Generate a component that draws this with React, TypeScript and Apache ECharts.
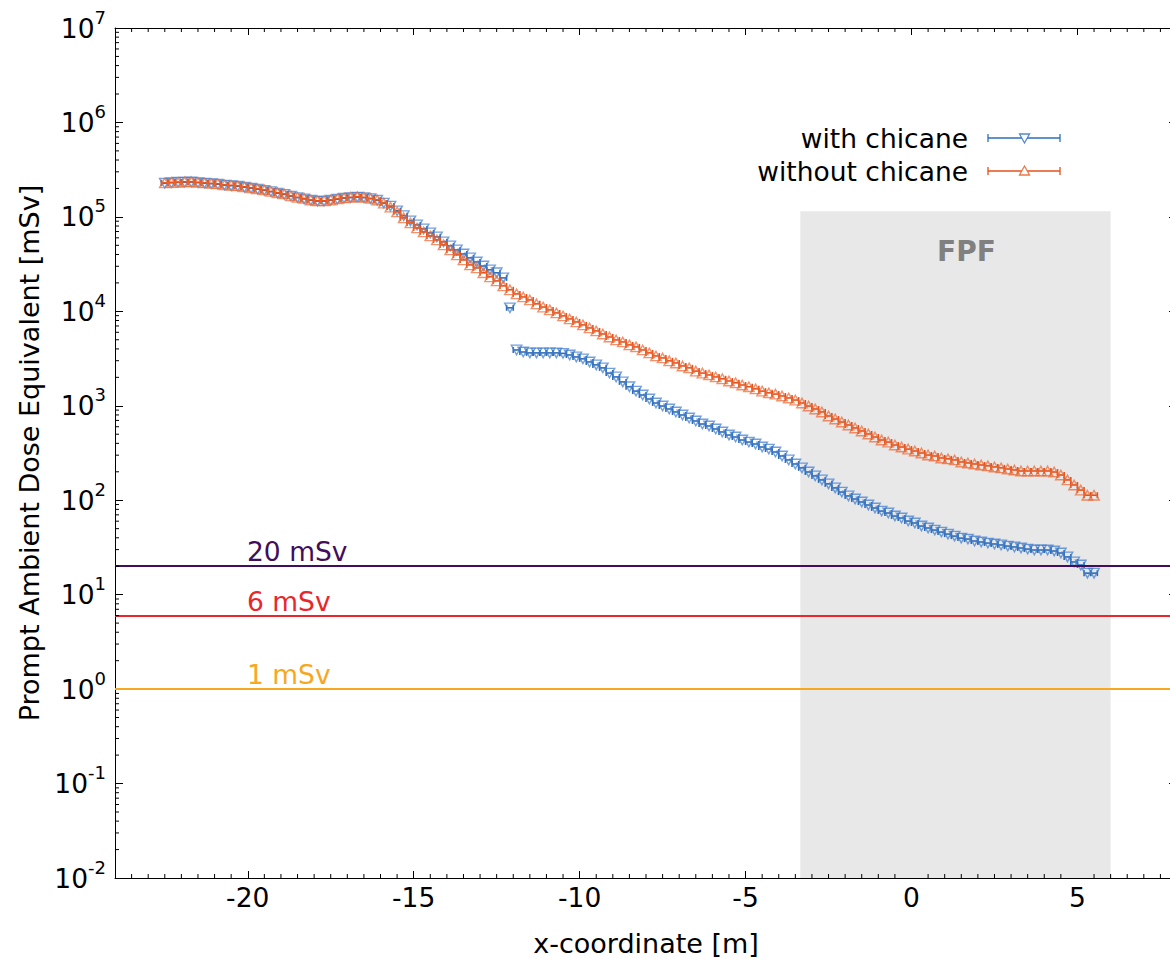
import React, { useEffect, useRef } from 'react';
import * as echarts from 'echarts';

// ---------- data ----------
const xPositions = [
  -22.5, -22.3, -22.1, -21.9, -21.7, -21.5, -21.3, -21.1, -20.9, -20.7,
  -20.5, -20.3, -20.1, -19.9, -19.7, -19.5, -19.3, -19.1, -18.9, -18.7,
  -18.5, -18.3, -18.1, -17.9, -17.7, -17.5, -17.3, -17.1, -16.9, -16.7,
  -16.5, -16.3, -16.1, -15.9, -15.7, -15.5, -15.3, -15.1, -14.9, -14.7,
  -14.5, -14.3, -14.1, -13.9, -13.7, -13.5, -13.3, -13.1, -12.9, -12.7,
  -12.5, -12.3, -12.1, -11.9, -11.7, -11.5, -11.3, -11.1, -10.9, -10.7,
  -10.5, -10.3, -10.1, -9.9, -9.7, -9.5, -9.3, -9.1, -8.9, -8.7,
  -8.5, -8.3, -8.1, -7.9, -7.7, -7.5, -7.3, -7.1, -6.9, -6.7,
  -6.5, -6.3, -6.1, -5.9, -5.7, -5.5, -5.3, -5.1, -4.9, -4.7,
  -4.5, -4.3, -4.1, -3.9, -3.7, -3.5, -3.3, -3.1, -2.9, -2.7,
  -2.5, -2.3, -2.1, -1.9, -1.7, -1.5, -1.3, -1.1, -0.9, -0.7,
  -0.5, -0.3, -0.1, 0.1, 0.3, 0.5, 0.7, 0.9, 1.1, 1.3,
  1.5, 1.7, 1.9, 2.1, 2.3, 2.5, 2.7, 2.9, 3.1, 3.3,
  3.5, 3.7, 3.9, 4.1, 4.3, 4.5, 4.7, 4.9, 5.1, 5.3,
  5.5,
];

const withChicane = [
  227000, 230000, 233000, 233000, 234000, 231000, 228000, 225000, 222000, 217000,
  214000, 211000, 206000, 201000, 196000, 191000, 185000, 178000, 173000, 166000,
  160000, 155000, 150000, 147000, 147000, 150000, 154000, 158000, 160000, 162000,
  160000, 156000, 150000, 140000, 130000, 116000, 103000, 90700, 82200, 74600,
  67700, 61400, 54400, 49300, 44700, 40500, 36800, 33300, 30200, 27500,
  25600, 22600, 10900, 3900, 3710, 3630, 3630, 3630, 3630, 3630,
  3590, 3450, 3290, 3140, 2910, 2710, 2520, 2220, 2020, 1790,
  1590, 1430, 1300, 1180, 1070, 994, 925, 860, 799, 742,
  690, 641, 611, 568, 528, 490, 467, 434, 413, 394,
  366, 348, 324, 294, 267, 242, 220, 199, 181, 164,
  149, 135, 122, 111, 103, 95.7, 89.0, 82.7, 76.8, 73.2,
  68.0, 64.8, 60.2, 57.4, 53.3, 50.8, 48.3, 46.0, 43.8, 41.7,
  39.7, 38.8, 37.0, 36.1, 35.2, 34.4, 33.6, 32.7, 32.0, 31.2,
  30.4, 29.7, 29.7, 29.7, 29.0, 27.6, 25.1, 22.2, 20.6, 16.9,
  16.9,
];

const withoutChicane = [
  229000, 232000, 232000, 235000, 235000, 232000, 229000, 226000, 224000, 218000,
  216000, 213000, 208000, 203000, 198000, 193000, 186000, 180000, 175000, 167000,
  161000, 157000, 151000, 148000, 148000, 151000, 155000, 159000, 161000, 163000,
  161000, 157000, 151000, 140000, 127000, 113000, 97700, 86400, 76400, 69300,
  62900, 57100, 50600, 44700, 39600, 35000, 31000, 28800, 25600, 23200,
  21000, 18600, 16900, 15300, 14200, 13200, 12000, 11100, 10350, 9620,
  8940, 8310, 7720, 7180, 6670, 6200, 5760, 5350, 4980, 4740,
  4410, 4200, 3900, 3630, 3370, 3210, 2990, 2840, 2640, 2520,
  2330, 2220, 2120, 2020, 1930, 1830, 1750, 1660, 1590, 1510,
  1430, 1370, 1330, 1270, 1210, 1150, 1070, 994, 925, 860,
  780, 724, 673, 626, 582, 541, 503, 467, 434, 413,
  384, 366, 348, 332, 316, 301, 294, 280, 274, 267,
  254, 248, 242, 236, 231, 225, 220, 214, 209, 204,
  204, 204, 204, 204, 199, 185, 164, 145, 128, 113,
  113,
];

const seriesNames = ['with chicane', 'without chicane'];
const thresholdValues = [20, 6, 1];
const thresholdLabels = ['20 mSv', '6 mSv', '1 mSv'];
const fpfRange = [-3.35, 6.0];
const fpfTop = 115000;
const fpfLabel = 'FPF';
const xAxisTitle = 'x-coordinate [m]';
const yAxisTitle = 'Prompt Ambient Dose Equivalent [mSv]';

const X_MIN = -24;
const X_MAX = 8;
const Y_MIN = 0.01;
const Y_MAX = 1e7;
const BIN_HALF = 0.1;

// ---------- styles ----------
const FONT = 'DejaVu Sans';
const FS = 26.5;
const BLUE_LINE = '#2f6cb8';
const BLUE_MARK = 'rgba(62,124,204,0.9)';
const ORANGE_LINE = '#e4511a';
const ORANGE_MARK = 'rgba(236,104,52,0.9)';
const thresholdColors = ['#420d59', '#e9262b', '#f6a81f'];

// axis decoration: minor tick positions
const xMinorTicks: number[] = [];
for (let k = -47; k <= 15; k++) {
  if (k % 10 !== 0) xMinorTicks.push(k * 0.5);
}
const yMinorTicks: number[] = [];
for (let e = -2; e <= 6; e++) {
  for (let m = 2; m <= 9; m++) yMinorTicks.push(m * Math.pow(10, e));
}

function errorBars(name: string, values: number[], color: string, z: number) {
  return {
    type: 'custom',
    name,
    z,
    silent: true,
    clip: false,
    encode: { x: 0, y: 1 },
    data: xPositions.map((x, i) => [x, values[i]]),
    renderItem: (_p: any, api: any) => {
      const x = api.value(0);
      const y = api.value(1);
      const a = api.coord([x - BIN_HALF, y]);
      const b = api.coord([x + BIN_HALF, y]);
      const style = { stroke: color, lineWidth: 1.6, fill: null };
      return {
        type: 'group',
        children: [
          { type: 'line', shape: { x1: a[0], y1: a[1], x2: b[0], y2: b[1] }, style },
          { type: 'line', shape: { x1: a[0], y1: a[1] - 3, x2: a[0], y2: a[1] + 3 }, style },
          { type: 'line', shape: { x1: b[0], y1: b[1] - 3, x2: b[0], y2: b[1] + 3 }, style },
        ],
      };
    },
  };
}

function markers(name: string, values: number[], color: string, rotate: number, z: number) {
  return {
    type: 'scatter',
    name,
    z,
    silent: true,
    data: xPositions.map((x, i) => [x, values[i]]),
    symbol: 'triangle',
    symbolSize: [10.5, 9.5],
    symbolRotate: rotate,
    itemStyle: { color: 'transparent', borderColor: color, borderWidth: 1.4 },
  };
}

function buildOption() {
  const axisLine = { show: true, onZero: false, lineStyle: { color: '#000', width: 1 } };
  return {
    animation: false,
    backgroundColor: '#ffffff',
    textStyle: { fontFamily: FONT },
    grid: {
      left: 115,
      top: 28,
      width: 1062,
      height: 850,
      containLabel: false,
      outerBoundsMode: 'none',
    },
    xAxis: [
      {
        type: 'value',
        position: 'bottom',
        min: X_MIN,
        max: X_MAX,
        splitNumber: 6,
        axisLine,
        axisTick: { show: true, inside: true, length: 7, lineStyle: { color: '#000' } },
        axisLabel: {
          show: true,
          color: '#000',
          fontSize: FS,
          fontFamily: FONT,
          margin: 6,
          showMinLabel: false,
          showMaxLabel: false,
        },
        splitLine: { show: false },
        name: xAxisTitle,
        nameLocation: 'middle',
        nameGap: 52,
        nameTextStyle: { fontSize: 27, color: '#000', fontFamily: FONT },
      },
      {
        type: 'value',
        position: 'top',
        min: X_MIN,
        max: X_MAX,
        splitNumber: 6,
        axisLine,
        axisTick: { show: true, inside: true, length: 7, lineStyle: { color: '#000' } },
        axisLabel: { show: false },
        splitLine: { show: false },
      },
    ],
    yAxis: [
      {
        type: 'log',
        logBase: 10,
        position: 'left',
        min: Y_MIN,
        max: Y_MAX,
        interval: 1,
        splitNumber: 9,
        axisLine,
        axisTick: { show: true, inside: true, length: 8, lineStyle: { color: '#000' } },
        splitLine: { show: false },
        axisLabel: {
          show: true,
          margin: 9,
          formatter: (v: number) => `{b|10}{s|${Math.round(Math.log10(v))}}`,
          rich: {
            b: { fontSize: FS, color: '#000', fontFamily: FONT, lineHeight: 26 },
            s: { fontSize: 18, color: '#000', fontFamily: FONT, lineHeight: 18, padding: [0, 0, 22, 0] },
          },
        },
        name: yAxisTitle,
        nameLocation: 'middle',
        nameGap: 66,
        nameTextStyle: { fontSize: 27, color: '#000', fontFamily: FONT },
      },
      {
        type: 'log',
        logBase: 10,
        position: 'right',
        min: Y_MIN,
        max: Y_MAX,
        interval: 1,
        splitNumber: 9,
        axisLine,
        axisTick: { show: true, inside: true, length: 8, lineStyle: { color: '#000' } },
        splitLine: { show: false },
        axisLabel: { show: false },
      },
    ],
    series: [
      {
        type: 'line',
        name: 'references',
        z: 1,
        silent: true,
        data: [],
        markArea: {
          silent: true,
          itemStyle: { color: '#e8e8e8' },
          label: {
            show: true,
            position: 'insideTop',
            distance: 26,
            offset: [11, 0],
            formatter: fpfLabel,
            color: '#808080',
            fontSize: 28,
            fontWeight: 'bold',
            fontFamily: FONT,
          },
          data: [[{ xAxis: fpfRange[0], yAxis: Y_MIN }, { xAxis: fpfRange[1], yAxis: fpfTop }]],
        },
        markLine: {
          silent: true,
          symbol: ['none', 'none'],
          data: thresholdValues.map((v, i) => ({
            yAxis: v,
            lineStyle: { color: thresholdColors[i], width: 2, type: 'solid' },
            label: {
              show: true,
              formatter: thresholdLabels[i],
              position: 'insideStartTop',
              distance: [132, 1],
              color: thresholdColors[i],
              fontSize: FS,
              fontFamily: FONT,
            },
          })),
        },
      },
      {
        type: 'custom',
        name: 'x minor ticks',
        z: 5,
        silent: true,
        clip: false,
        encode: { x: 0, y: 1 },
        data: xMinorTicks.map((v) => [v, Y_MIN]),
        renderItem: (_p: any, api: any) => {
          const v = api.value(0);
          const b = api.coord([v, Y_MIN]);
          const t = api.coord([v, Y_MAX]);
          const style = { stroke: '#000', lineWidth: 1 };
          return {
            type: 'group',
            children: [
              { type: 'line', shape: { x1: b[0], y1: b[1], x2: b[0], y2: b[1] - 4 }, style },
              { type: 'line', shape: { x1: t[0], y1: t[1], x2: t[0], y2: t[1] + 4 }, style },
            ],
          };
        },
      },
      {
        type: 'custom',
        name: 'y minor ticks',
        z: 5,
        silent: true,
        clip: false,
        encode: { x: 0, y: 1 },
        data: yMinorTicks.map((v) => [X_MIN, v]),
        renderItem: (_p: any, api: any) => {
          const v = api.value(1);
          const l = api.coord([X_MIN, v]);
          const r = api.coord([X_MAX, v]);
          const style = { stroke: '#000', lineWidth: 1 };
          return {
            type: 'group',
            children: [
              { type: 'line', shape: { x1: l[0], y1: l[1], x2: l[0] + 4, y2: l[1] }, style },
              { type: 'line', shape: { x1: r[0], y1: r[1], x2: r[0] - 4, y2: r[1] }, style },
            ],
          };
        },
      },
      errorBars(seriesNames[0], withChicane, BLUE_LINE, 3),
      markers(seriesNames[0], withChicane, BLUE_MARK, 180, 3),
      errorBars(seriesNames[1], withoutChicane, ORANGE_LINE, 4),
      markers(seriesNames[1], withoutChicane, ORANGE_MARK, 0, 4),
    ],
    graphic: [
      {
        type: 'group',
        z: 20,
        children: [
          {
            type: 'text',
            x: 968,
            y: 138,
            style: {
              text: seriesNames[0],
              align: 'right',
              verticalAlign: 'middle',
              textAlign: 'right',
              textVerticalAlign: 'middle',
              fontSize: FS,
              fontFamily: FONT,
              fill: '#000',
            },
          },
          { type: 'line', shape: { x1: 988, y1: 138, x2: 1060, y2: 138 }, style: { stroke: BLUE_LINE, lineWidth: 1.3 } },
          { type: 'line', shape: { x1: 988, y1: 134, x2: 988, y2: 142 }, style: { stroke: BLUE_LINE, lineWidth: 1.3 } },
          { type: 'line', shape: { x1: 1060, y1: 134, x2: 1060, y2: 142 }, style: { stroke: BLUE_LINE, lineWidth: 1.3 } },
          {
            type: 'polygon',
            shape: { points: [[1019.5, 134], [1029.5, 134], [1024.5, 143]] },
            style: { fill: '#ffffff', stroke: BLUE_MARK, lineWidth: 1.3 },
          },
          {
            type: 'text',
            x: 968,
            y: 171,
            style: {
              text: seriesNames[1],
              align: 'right',
              verticalAlign: 'middle',
              textAlign: 'right',
              textVerticalAlign: 'middle',
              fontSize: FS,
              fontFamily: FONT,
              fill: '#000',
            },
          },
          { type: 'line', shape: { x1: 988, y1: 171, x2: 1060, y2: 171 }, style: { stroke: ORANGE_LINE, lineWidth: 1.3 } },
          { type: 'line', shape: { x1: 988, y1: 167, x2: 988, y2: 175 }, style: { stroke: ORANGE_LINE, lineWidth: 1.3 } },
          { type: 'line', shape: { x1: 1060, y1: 167, x2: 1060, y2: 175 }, style: { stroke: ORANGE_LINE, lineWidth: 1.3 } },
          {
            type: 'polygon',
            shape: { points: [[1024.5, 166], [1029.5, 175], [1019.5, 175]] },
            style: { fill: '#ffffff', stroke: ORANGE_MARK, lineWidth: 1.3 },
          },
        ],
      },
    ],
  };
}

export default function App() {
  const ref = useRef<HTMLDivElement>(null);
  useEffect(() => {
    if (!ref.current) return;
    const chart = echarts.init(ref.current, null, { renderer: 'svg' });
    chart.setOption(buildOption() as any);
    return () => {
      chart.dispose();
    };
  }, []);
  return (
    <div
      ref={ref}
      style={{ position: 'absolute', left: 0, top: 0, width: 1170, height: 959, background: '#fff' }}
    />
  );
}
